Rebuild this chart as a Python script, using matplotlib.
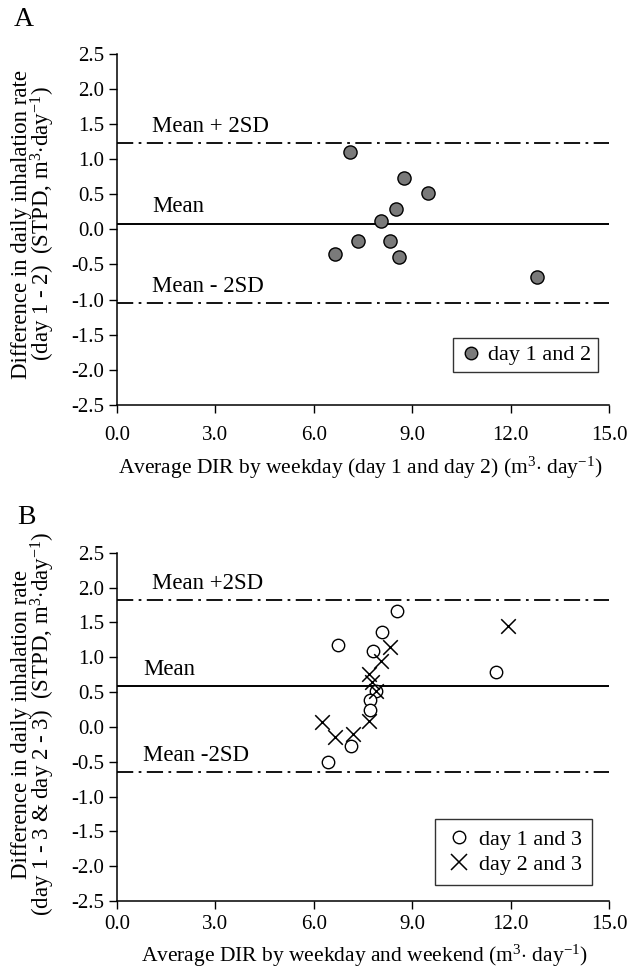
import matplotlib
matplotlib.use("Agg")
import matplotlib.pyplot as plt
from matplotlib.lines import Line2D

plt.rcParams['font.family'] = ['Liberation Serif', 'DejaVu Serif']
plt.rcParams['mathtext.fontset'] = 'custom'
plt.rcParams['mathtext.rm'] = 'Liberation Serif'
plt.rcParams['mathtext.it'] = 'Liberation Serif:italic'
plt.rcParams['axes.unicode_minus'] = False

# ---- Panel A data: day 1 and 2 ----
a_x = [7.10, 8.75, 9.47, 8.52, 8.05, 7.36, 8.32, 6.65, 8.60, 12.79]
a_y = [1.10, 0.73, 0.51, 0.29, 0.12, -0.17, -0.17, -0.35, -0.40, -0.68]
a_mean, a_upper, a_lower = 0.08, 1.22, -1.05

# ---- Panel B data ----
b13_x = [8.55, 8.09, 6.74, 7.79, 11.54, 7.90, 7.71, 7.71, 7.12, 6.44]
b13_y = [1.67, 1.36, 1.17, 1.09, 0.79, 0.52, 0.38, 0.24, -0.28, -0.50]
b23_x = [11.91, 8.32, 8.05, 7.69, 7.78, 7.91, 7.69, 6.24, 7.21, 6.65]
b23_y = [1.45, 1.14, 0.95, 0.76, 0.64, 0.52, 0.09, 0.07, -0.10, -0.15]
b_mean, b_upper, b_lower = 0.58, 1.82, -0.65

x_ticks = [0.0, 3.0, 6.0, 9.0, 12.0, 15.0]
y_ticks = [2.5, 2.0, 1.5, 1.0, 0.5, 0.0, -0.5, -1.0, -1.5, -2.0, -2.5]

W, H = 642, 972
fig = plt.figure(figsize=(W / 100, H / 100), dpi=100)

def px(x, y):
    return x / W, 1 - y / H

axA = fig.add_axes([117 / W, 1 - 405 / H, 492 / W, (405 - 53.5) / H])
axB = fig.add_axes([117 / W, 1 - 901 / H, 492 / W, (901 - 552.7) / H])

dashdot = (0, (9, 3, 1.5, 3))

def style(ax, xpad):
    ax.set_xlim(0, 15)
    ax.set_ylim(-2.5, 2.5)
    ax.set_xticks(x_ticks)
    ax.set_xticklabels([f"{v:.1f}" for v in x_ticks])
    ax.set_yticks(y_ticks)
    ax.set_yticklabels([f"{v:.1f}" for v in y_ticks])
    for s in ['top', 'right']:
        ax.spines[s].set_visible(False)
    for s in ['left', 'bottom']:
        ax.spines[s].set_linewidth(1.1)
        ax.spines[s].set_color('black')
    ax.tick_params(axis='both', direction='out', length=6, width=1.0,
                   labelsize=15, colors='black')
    ax.tick_params(axis='x', pad=xpad)
    ax.tick_params(axis='y', pad=3)

# Panel A
style(axA, 9)
axA.axhline(a_mean, color='black', lw=1.4)
axA.axhline(a_upper, color='black', lw=1.3, linestyle=dashdot)
axA.axhline(a_lower, color='black', lw=1.3, linestyle=dashdot)
axA.scatter(a_x, a_y, s=90, facecolor='#7a7a7a', edgecolor='black',
            linewidth=1.0, zorder=3)
axA.text(1.07, a_upper + 0.09, "Mean + 2SD", fontsize=16.5, va='bottom', ha='left')
axA.text(1.07, a_mean + 0.09, "Mean", fontsize=16.5, va='bottom', ha='left')
axA.text(1.07, a_lower + 0.09, "Mean - 2SD", fontsize=16.5, va='bottom', ha='left')
hA = [Line2D([], [], marker='o', linestyle='none', markersize=9,
             markerfacecolor='#7a7a7a', markeredgecolor='black')]
legA = axA.legend(hA, ["day 1 and 2"], loc='lower right',
                  bbox_to_anchor=(0.978, 0.094), fontsize=16, frameon=True,
                  fancybox=False, edgecolor='black', handletextpad=0.3,
                  borderpad=0.3, handlelength=1.0, borderaxespad=0)
legA.get_frame().set_linewidth(1.0)

# Panel B
style(axB, 4)
axB.axhline(b_mean, color='black', lw=1.4)
axB.axhline(b_upper, color='black', lw=1.3, linestyle=dashdot)
axB.axhline(b_lower, color='black', lw=1.3, linestyle=dashdot)
axB.scatter(b13_x, b13_y, s=80, facecolor='white', edgecolor='black',
            linewidth=1.0, zorder=3)
axB.scatter(b23_x, b23_y, s=110, marker='x', color='black',
            linewidth=1.1, zorder=4)
axB.text(1.07, b_upper + 0.09, "Mean +2SD", fontsize=16.5, va='bottom', ha='left')
axB.text(0.80, b_mean + 0.09, "Mean", fontsize=16.5, va='bottom', ha='left')
axB.text(0.80, b_lower + 0.09, "Mean -2SD", fontsize=16.5, va='bottom', ha='left')
hB = [Line2D([], [], marker='o', linestyle='none', markersize=9,
             markerfacecolor='white', markeredgecolor='black'),
      Line2D([], [], marker='x', linestyle='none', markersize=11,
             color='black', markeredgewidth=1.1)]
legB = axB.legend(hB, ["day 1 and 3", "day 2 and 3"], loc='lower right',
                  bbox_to_anchor=(0.965, 0.046), fontsize=16, frameon=True,
                  fancybox=False, edgecolor='black', handletextpad=0.3,
                  borderpad=0.45, handlelength=1.2, labelspacing=0.2,
                  borderaxespad=0)
legB.get_frame().set_linewidth(1.0)

# Axis titles
fig.text(*px(360, 468), r"Average DIR by weekday (day 1 and day 2) (m$^{3}$$\cdot$ day$^{-1}$)",
         ha='center', va='center', fontsize=15.5)
fig.text(*px(364, 956), r"Average DIR by weekday and weekend (m$^{3}$$\cdot$ day$^{-1}$)",
         ha='center', va='center', fontsize=15.5)

fig.text(*px(34, 224), "Difference in daily inhalation rate\n"
         r"(day 1 - 2)  (STPD, m$^{3}$$\cdot$day$^{-1}$)",
         rotation=90, ha='center', va='center', fontsize=16.5, linespacing=0.85,
         multialignment='center')
fig.text(*px(34, 724), "Difference in daily inhalation rate\n"
         r"(day 1 - 3 & day 2 - 3)  (STPD, m$^{3}$$\cdot$day$^{-1}$)",
         rotation=90, ha='center', va='center', fontsize=16.5, linespacing=0.85,
         multialignment='center')

fig.text(*px(24, 20), "A", fontsize=20, ha='center', va='center')
fig.text(*px(26, 517), "B", fontsize=20, ha='center', va='center')

fig.savefig("out.png", dpi=100)
